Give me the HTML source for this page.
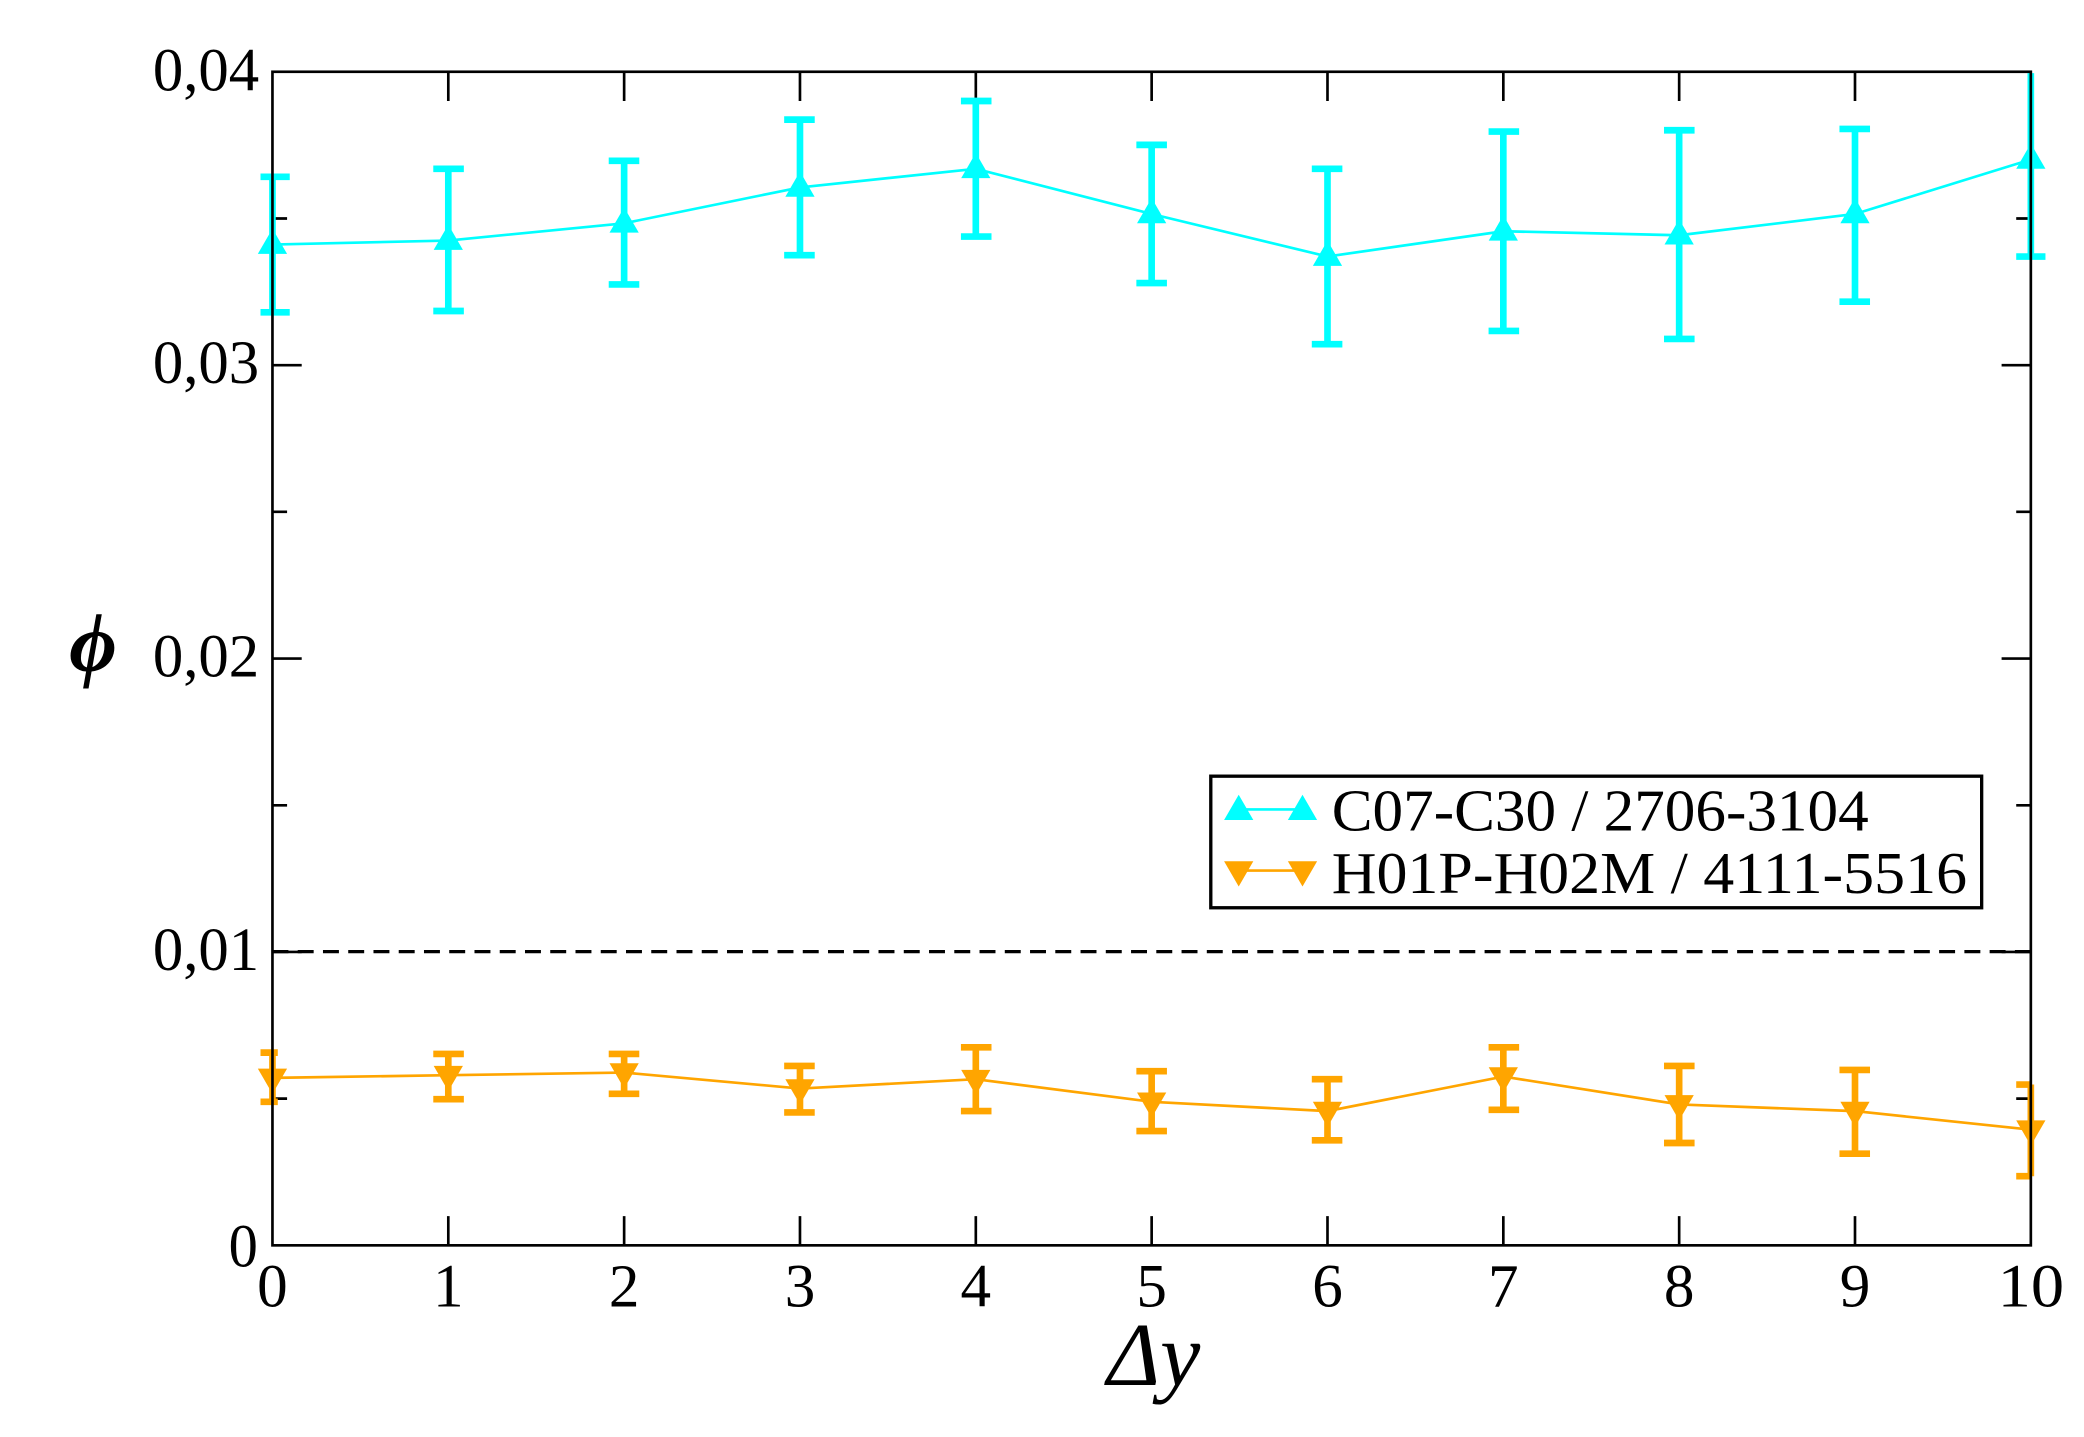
<!DOCTYPE html>
<html><head><style>html,body{margin:0;padding:0;background:#fff}svg{display:block}</style></head>
<body>
<svg width="2084" height="1437" viewBox="0 0 1568 1081.2" preserveAspectRatio="none" xmlns="http://www.w3.org/2000/svg" font-family="Liberation Serif, serif">
<rect width="1568" height="1082" fill="#fff"/>
<g stroke="#000" stroke-width="2.5">
<line x1="205" y1="716" x2="1528" y2="716" stroke-dasharray="12,7"/>
</g>
<g stroke="#000" stroke-width="2">
<path d="M337.3 937v-22M469.6 937v-22M601.9 937v-22M734.2 937v-22M866.5 937v-22M998.8 937v-22M1131.1 937v-22M1263.4 937v-22M1395.7 937v-22
M337.3 54v22M469.6 54v22M601.9 54v22M734.2 54v22M866.5 54v22M998.8 54v22M1131.1 54v22M1263.4 54v22M1395.7 54v22
M205 274.75h22M205 495.5h22M205 716.25h22M205 826.6h11M205 605.9h11M205 385.1h11M205 164.4h11
M1528 274.75h-22M1528 495.5h-22M1528 716.25h-22M1528 826.6h-11M1528 605.9h-11M1528 385.1h-11M1528 164.4h-11" fill="none"/>
</g>
<g stroke="#00ffff" fill="#00ffff">
<polyline fill="none" stroke-width="2" points="205,184 337.3,181 469.6,168 601.9,141 734.2,127 866.5,161 998.8,193 1131.1,174 1263.4,177 1395.7,161 1528,120"/>
<g stroke-width="5">
<path d="M205 133V235M196 133h22M196 235h22
M337.3 127V234M326 127h23M326 234h23
M469.6 121V214M458 121h23M458 214h23
M601.9 90V192M590 90h23M590 192h23
M734.2 76V178M723 76h23M723 178h23
M866.5 109V213M855 109h23M855 213h23
M998.8 127V259M987 127h23M987 259h23
M1131.1 99V249M1120 99h23M1120 249h23
M1263.4 98V255M1252 98h23M1252 255h23
M1395.7 97V227M1384 97h23M1384 227h23
M1528 55V193M1517 193h22" fill="none"/>
</g>
<g stroke="none">
<path d="M205 172l-11 19h22z"/><path d="M337.3 169l-11 19h22z"/><path d="M469.6 156l-11 19h22z"/><path d="M601.9 129l-11 19h22z"/><path d="M734.2 115l-11 19h22z"/><path d="M866.5 149l-11 19h22z"/><path d="M998.8 181l-11 19h22z"/><path d="M1131.1 162l-11 19h22z"/><path d="M1263.4 165l-11 19h22z"/><path d="M1395.7 149l-11 19h22z"/><path d="M1528 108l-11 19h22z"/>
</g>
</g>
<g stroke="#ffa500" fill="#ffa500">
<polyline fill="none" stroke-width="2" points="205,811 337.3,809 469.6,807 601.9,819 734.2,812 866.5,829 998.8,836 1131.1,810 1263.4,831 1395.7,836 1528,850"/>
<g stroke-width="5">
<path d="M205 792V829M196 792h13M196 829h13
M337.3 793V827M326 793h23M326 827h23
M469.6 793V823M458 793h23M458 823h23
M601.9 802V837M590 802h23M590 837h23
M734.2 788V836M723 788h23M723 836h23
M866.5 806V851M855 806h23M855 851h23
M998.8 812V858M987 812h23M987 858h23
M1131.1 788V835M1120 788h23M1120 835h23
M1263.4 802V860M1252 802h23M1252 860h23
M1395.7 805V868M1384 805h23M1384 868h23
M1528 816V885M1517 816h11M1517 885h11" fill="none"/>
</g>
<g stroke="none">
<path d="M205 823l-11 -19h22z"/><path d="M337.3 821l-11 -19h22z"/><path d="M469.6 819l-11 -19h22z"/><path d="M601.9 831l-11 -19h22z"/><path d="M734.2 824l-11 -19h22z"/><path d="M866.5 841l-11 -19h22z"/><path d="M998.8 848l-11 -19h22z"/><path d="M1131.1 822l-11 -19h22z"/><path d="M1263.4 843l-11 -19h22z"/><path d="M1395.7 848l-11 -19h22z"/><path d="M1528 862l-11 -19h22z"/>
</g>
</g>
<rect x="205" y="54" width="1323" height="883" fill="none" stroke="#000" stroke-width="2"/>
<rect x="911" y="584" width="580" height="99" fill="#fff" stroke="#000" stroke-width="2.5"/>
<line x1="932" y1="609" x2="980" y2="609" stroke="#00ffff" stroke-width="2"/>
<path d="M932 598l-11 19h22zM980 598l-11 19h22z" fill="#00ffff"/>
<line x1="932" y1="655" x2="980" y2="655" stroke="#ffa500" stroke-width="2"/>
<path d="M932 667l-11 -19h22zM980 667l-11 -19h22z" fill="#ffa500"/>
<g font-size="45" fill="#000">
<text x="1002" y="625" textLength="404" lengthAdjust="spacingAndGlyphs">C07-C30 / 2706-3104</text>
<text x="1002" y="672" textLength="478" lengthAdjust="spacingAndGlyphs">H01P-H02M / 4111-5516</text>
</g>
<g font-size="46" fill="#000" lengthAdjust="spacingAndGlyphs">
<text x="115" y="68" textLength="80" lengthAdjust="spacingAndGlyphs">0,04</text>
<text x="115" y="288" textLength="80" lengthAdjust="spacingAndGlyphs">0,03</text>
<text x="115" y="509" textLength="80" lengthAdjust="spacingAndGlyphs">0,02</text>
<text x="115" y="730" textLength="80" lengthAdjust="spacingAndGlyphs">0,01</text>
<text x="172" y="953" textLength="22" lengthAdjust="spacingAndGlyphs">0</text>
</g>
<g font-size="46" text-anchor="middle" fill="#000">
<text x="205" y="983">0</text><text x="337.3" y="983">1</text><text x="469.6" y="983">2</text><text x="601.9" y="983">3</text><text x="734.2" y="983">4</text><text x="866.5" y="983">5</text><text x="998.8" y="983">6</text><text x="1131.1" y="983">7</text><text x="1263.4" y="983">8</text><text x="1395.7" y="983">9</text><text x="1528" y="983" textLength="50" lengthAdjust="spacingAndGlyphs">10</text>
</g>
<text x="868" y="1042" font-size="68" font-style="italic" text-anchor="middle">Δy</text>
<text x="70" y="505" font-size="62" font-style="italic" font-weight="bold" text-anchor="middle">ϕ</text>
</svg>
</body></html>
